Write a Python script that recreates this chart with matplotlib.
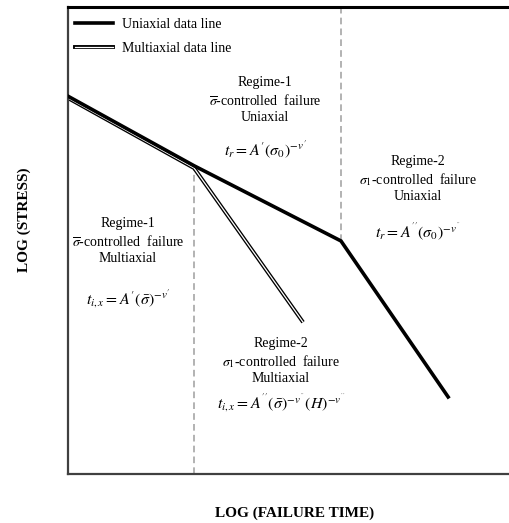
import matplotlib
matplotlib.use("Agg")
import matplotlib.pyplot as plt
import matplotlib.patheffects as pe
from matplotlib.lines import Line2D

plt.rcParams["font.family"] = ["Liberation Serif", "DejaVu Serif"]
plt.rcParams["mathtext.fontset"] = "stix"

# log(failure time) / log(stress) in arbitrary units, 0-100
uni_x = [0, 28.6, 61.9, 86.2]
uni_y = [80.9, 66.0, 49.9, 16.5]

multi_x = [0, 28.6, 53.3]
multi_y = [80.5, 65.5, 32.5]

# regime boundaries (dashed)
knee_multi = (28.6, 65.5)
knee_uni = (61.9, 49.9)

fig = plt.figure(figsize=(5.09, 5.23), dpi=100)
ax = fig.add_axes([0.1336, 0.0937, 0.8664, 0.8929])
ax.set_xlim(0, 100)
ax.set_ylim(0, 100)

# dashed regime separators
ax.plot([knee_multi[0], knee_multi[0]], [0, knee_multi[1]], color="#a6a6a6",
        lw=1.2, ls=(0, (4, 2.5)), zorder=1)
ax.plot([knee_uni[0], knee_uni[0]], [knee_uni[1], 100], color="#a6a6a6",
        lw=1.2, ls=(0, (4, 2.5)), zorder=1)

# double line for multiaxial data (white core with black outline)
double = [pe.Stroke(linewidth=2.8, foreground="black"), pe.Normal()]
ax.plot(multi_x, multi_y, color="white", lw=0.9, path_effects=double,
        solid_capstyle="butt", zorder=2)
ax.plot(uni_x, uni_y, color="black", lw=2.6, solid_joinstyle="miter", zorder=3)

handles = [Line2D([], [], color="black", lw=2.6),
           Line2D([], [], color="white", lw=0.9, path_effects=double)]
ax.legend(handles, ["Uniaxial data line", "Multiaxial data line"],
          loc="upper left", bbox_to_anchor=(-0.012, 1.003), frameon=False,
          fontsize=10, handlelength=2.7, handletextpad=0.65, labelspacing=0.75)

fs = 10
mfs = 11.5
ax.text(44.7, 80.1, "Regime-1\n$\\overline{\\sigma}$-controlled  failure\nUniaxial",
        ha="center", va="center", fontsize=fs, linespacing=1.25)
ax.text(44.7, 69.4, "$t_r = A^{\\prime}(\\sigma_0)^{-v^{\\prime}}$", ha="center", va="center",
        fontsize=mfs)

ax.text(13.6, 49.9, "Regime-1\n$\\overline{\\sigma}$-controlled  failure\nMultiaxial",
        ha="center", va="center", fontsize=fs, linespacing=1.25)
ax.text(13.6, 37.5, "$t_{i,x} = A^{\\prime}(\\bar{\\sigma})^{-v^{\\prime}}$", ha="center",
        va="center", fontsize=mfs)

ax.text(79.3, 63.2, "Regime-2\n$\\sigma_1$-controlled  failure\nUniaxial",
        ha="center", va="center", fontsize=fs, linespacing=1.25)
ax.text(79.3, 51.8, "$t_r = A^{''}(\\sigma_0)^{-v^{''}}$", ha="center", va="center",
        fontsize=mfs)

ax.text(48.3, 24.2, "Regime-2\n$\\sigma_1$-controlled  failure\nMultiaxial",
        ha="center", va="center", fontsize=fs, linespacing=1.25)
ax.text(48.3, 15.2, "$t_{i,x} = A^{''}(\\bar{\\sigma})^{-v^{''}}(H)^{-v^{''}}$",
        ha="center", va="center", fontsize=mfs)

ax.set_xticks([])
ax.set_yticks([])
ax.spines["right"].set_visible(False)
ax.spines["top"].set_color("black")
ax.spines["top"].set_linewidth(2.2)
for side in ["left", "bottom"]:
    ax.spines[side].set_color("#404040")
    ax.spines[side].set_linewidth(1.6)

fig.text(0.047, 0.58, "LOG (STRESS)", rotation=90, ha="center", va="center",
         fontsize=11, fontweight="bold")
fig.text(0.578, 0.019, "LOG (FAILURE TIME)", ha="center", va="center",
         fontsize=11, fontweight="bold")

fig.savefig("out.png", dpi=100)
